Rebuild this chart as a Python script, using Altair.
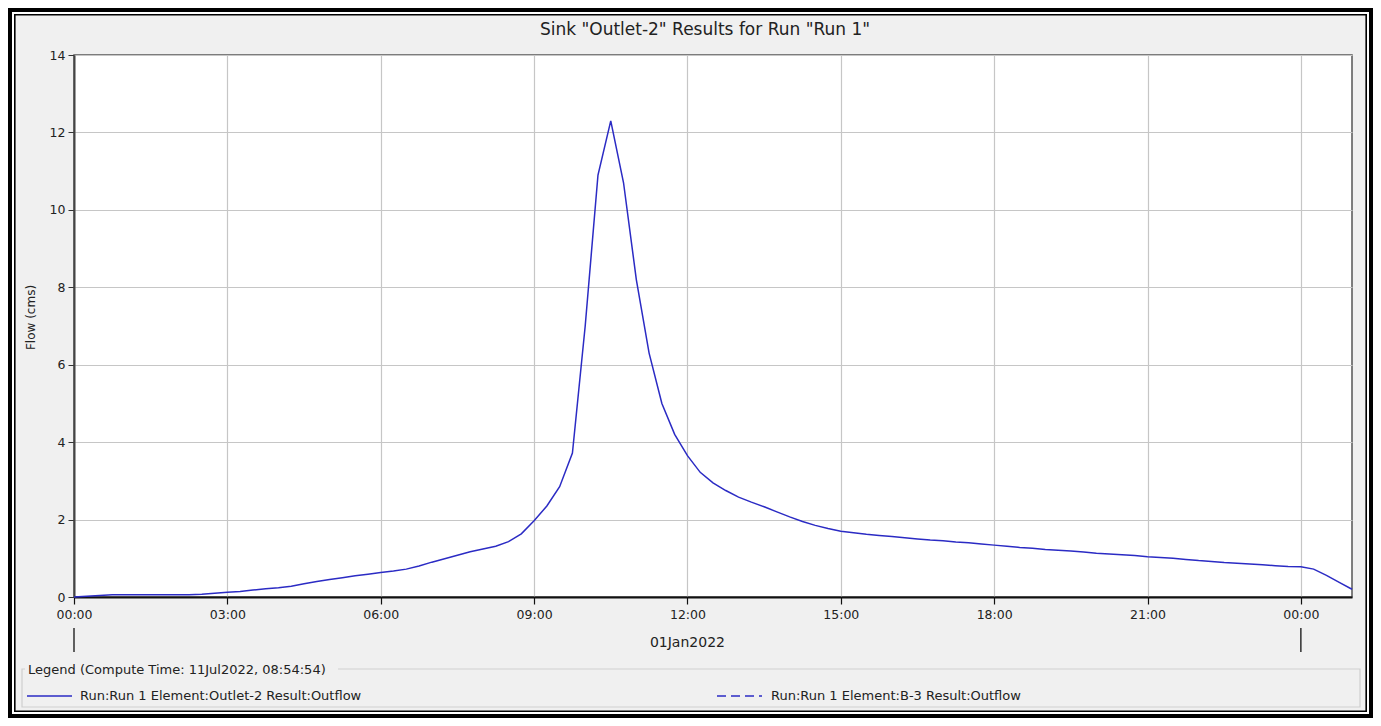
import altair as alt
import pandas as pd

# ---------------- data ----------------
TITLE = 'Sink "Outlet-2" Results for Run "Run 1"'
Y_TITLE = "Flow (cms)"
DATE_LABEL = "01Jan2022"
LEGEND_TITLE = "Legend (Compute Time: 11Jul2022, 08:54:54)"
SERIES_LABELS = [
    "Run:Run 1 Element:Outlet-2 Result:Outflow",
    "Run:Run 1 Element:B-3 Result:Outflow",
]
X_TICKS = [0, 3, 6, 9, 12, 15, 18, 21, 24]
Y_TICKS = [0, 2, 4, 6, 8, 10, 12, 14]
DAY_MARKS = [0, 24]
STEP_HOURS = 0.25  # 15-minute results
FLOW = [
    0.00, 0.02, 0.04, 0.06, 0.06, 0.06, 0.06, 0.06, 0.06, 0.06,
    0.07, 0.10, 0.12, 0.14, 0.18, 0.21, 0.24, 0.28, 0.34, 0.40,
    0.45, 0.50, 0.55, 0.59, 0.63, 0.67, 0.72, 0.80, 0.90, 0.99,
    1.08, 1.17, 1.24, 1.31, 1.43, 1.63, 1.97, 2.35, 2.85, 3.72,
    7.00, 10.90, 12.30, 10.70, 8.20, 6.30, 5.00, 4.20, 3.65, 3.22,
    2.95, 2.75, 2.58, 2.45, 2.33, 2.20, 2.07, 1.95, 1.85, 1.77,
    1.70, 1.66, 1.62, 1.59, 1.56, 1.53, 1.50, 1.47, 1.45, 1.42,
    1.40, 1.37, 1.34, 1.31, 1.28, 1.26, 1.23, 1.21, 1.19, 1.16,
    1.13, 1.11, 1.09, 1.07, 1.04, 1.02, 1.00, 0.97, 0.94, 0.92,
    0.89, 0.87, 0.85, 0.83, 0.81, 0.79, 0.78, 0.72, 0.56, 0.38,
    0.20,
]
HOURS = [i * STEP_HOURS for i in range(len(FLOW))]

# ---------------- styling ----------------
FONT = "DejaVu Sans"
LINE_COLOR = "#2b2bc4"
TEXT_COLOR = "#222222"
BG = "#f0f0f0"
W, H = 1278, 542

df = pd.DataFrame({"hours": HOURS, "flow": FLOW})
dummy = pd.DataFrame({"a": [0]})

x_scale = alt.Scale(domain=[0, 25], nice=False, zero=False)

line = alt.Chart(df).mark_line(color=LINE_COLOR, strokeWidth=1.5).encode(
    x=alt.X(
        "hours:Q",
        scale=x_scale,
        axis=alt.Axis(
            values=X_TICKS,
            labelExpr="(datum.value % 24 < 10 ? '0' : '') + (datum.value % 24) + ':00'",
            title=None,
            grid=True,
            gridColor="#c6c6c6",
            gridWidth=1.2,
            tickSize=7,
            tickColor="#111111",
            tickWidth=1.2,
            labelPadding=4,
            labelFlush=False,
            labelFont=FONT,
            labelFontSize=12.5,
            labelColor=TEXT_COLOR,
            domainColor="#111111",
            domainWidth=2,
        ),
    ),
    y=alt.Y(
        "flow:Q",
        scale=alt.Scale(domain=[0, 14], nice=False),
        axis=alt.Axis(
            values=Y_TICKS,
            title=Y_TITLE,
            titleFont=FONT,
            titleFontSize=12,
            titleFontWeight="normal",
            titleColor=TEXT_COLOR,
            titleX=-37,
            titleY=262,
            grid=True,
            gridColor="#c6c6c6",
            gridWidth=1.2,
            tickSize=6,
            tickColor="#333333",
            labelPadding=3,
            labelFont=FONT,
            labelFontSize=12.5,
            labelColor=TEXT_COLOR,
            domainColor="#444444",
            domainWidth=2,
        ),
    ),
)

# day boundary markers under the time labels
day_rules = alt.Chart(pd.DataFrame({"hours": DAY_MARKS})).mark_rule(
    color="#111111", strokeWidth=1.3
).encode(
    x=alt.X("hours:Q", scale=x_scale, title=None),
    y=alt.value(573),
    y2=alt.value(597),
)

date_text = alt.Chart(pd.DataFrame({"hours": [12], "t": [DATE_LABEL]})).mark_text(
    font=FONT, fontSize=14, color=TEXT_COLOR, baseline="middle", align="center"
).encode(
    x=alt.X("hours:Q", scale=x_scale, title=None),
    y=alt.value(588),
    text="t:N",
)

# chart title
title = alt.Chart(dummy).mark_text(
    text=TITLE, font=FONT, fontSize=17, color=TEXT_COLOR,
    align="center", baseline="middle",
).encode(x=alt.value(631), y=alt.value(-25))

# outer double frame
frame_outer = alt.Chart(dummy).mark_rect(
    fillOpacity=0, stroke="#000000", strokeWidth=4
).encode(x=alt.value(-64), x2=alt.value(1297), y=alt.value(-45), y2=alt.value(661))
frame_white = alt.Chart(dummy).mark_rect(
    fillOpacity=0, stroke="#ffffff", strokeWidth=2
).encode(x=alt.value(-61), x2=alt.value(1294), y=alt.value(-42), y2=alt.value(658))
frame_inner = alt.Chart(dummy).mark_rect(
    fillOpacity=0, stroke="#000000", strokeWidth=1.6
).encode(x=alt.value(-59.2), x2=alt.value(1292.2), y=alt.value(-40.2), y2=alt.value(656.2))

# legend box
legend_box = alt.Chart(dummy).mark_rect(
    fillOpacity=0, stroke="#cfcfcf", strokeWidth=1.2
).encode(x=alt.value(-52), x2=alt.value(1286), y=alt.value(614), y2=alt.value(652))
legend_title_bg = alt.Chart(dummy).mark_rect(color=BG).encode(
    x=alt.value(-49), x2=alt.value(264), y=alt.value(606), y2=alt.value(623)
)
legend_title = alt.Chart(dummy).mark_text(
    text=LEGEND_TITLE, font=FONT, fontSize=13, color=TEXT_COLOR,
    align="left", baseline="middle",
).encode(x=alt.value(-46), y=alt.value(615))

leg_sym1 = alt.Chart(dummy).mark_rule(color=LINE_COLOR, strokeWidth=1.4).encode(
    x=alt.value(-47), x2=alt.value(-2), y=alt.value(641)
)
leg_txt1 = alt.Chart(dummy).mark_text(
    text=SERIES_LABELS[0], font=FONT, fontSize=13, color=TEXT_COLOR,
    align="left", baseline="middle",
).encode(x=alt.value(6), y=alt.value(641))
leg_sym2 = alt.Chart(dummy).mark_rule(
    color=LINE_COLOR, strokeWidth=1.4, strokeDash=[9, 5]
).encode(x=alt.value(643), x2=alt.value(688), y=alt.value(641))
leg_txt2 = alt.Chart(dummy).mark_text(
    text=SERIES_LABELS[1], font=FONT, fontSize=13, color=TEXT_COLOR,
    align="left", baseline="middle",
).encode(x=alt.value(697), y=alt.value(641))

chart = alt.layer(
    line, day_rules, date_text, title,
    legend_box, legend_title_bg, legend_title,
    leg_sym1, leg_txt1, leg_sym2, leg_txt2,
    frame_white, frame_outer, frame_inner,
).properties(
    width=W,
    height=H,
    padding={"left": 66, "top": 47, "right": 21, "bottom": 121},
    autosize=alt.AutoSizeParams(type="none"),
    background=BG,
).configure_view(
    fill="white", stroke="#555555", strokeWidth=1.5
)

chart.save("out.html", embed_options={"renderer": "svg", "actions": False})
